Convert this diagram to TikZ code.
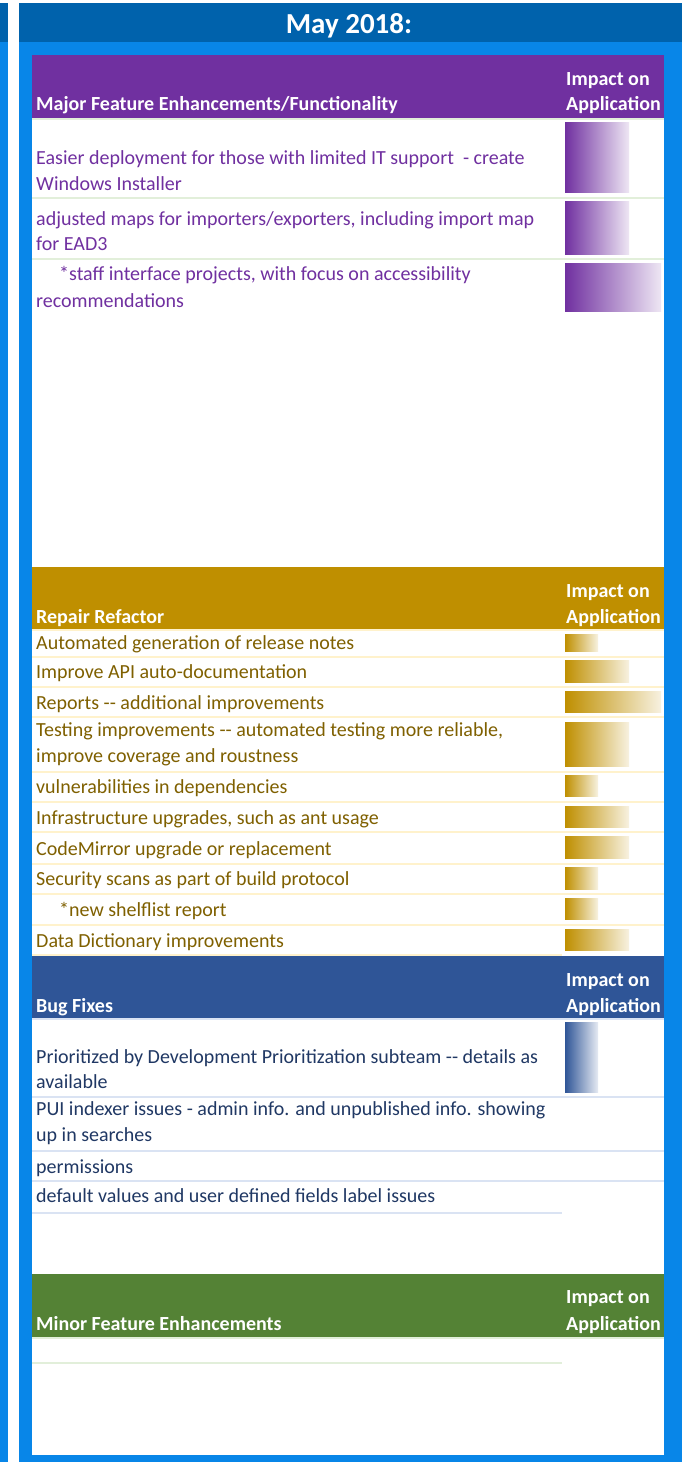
\documentclass[tikz,border=0pt]{standalone}
\usepackage{fontspec}
\setmainfont{Carlito}
\definecolor{framecolor}{RGB}{8,134,232}
\definecolor{topcolor}{RGB}{0,98,172}
\definecolor{majorcolor}{RGB}{112,48,160}
\definecolor{repaircolor}{RGB}{191,143,0}
\definecolor{bugcolor}{RGB}{47,85,151}
\definecolor{minorcolor}{RGB}{84,130,53}
\definecolor{repairtext}{RGB}{127,96,0}
\definecolor{bugtext}{RGB}{32,56,100}
\definecolor{greenline}{RGB}{226,239,218}
\definecolor{goldline}{RGB}{255,242,204}
\definecolor{blueline}{RGB}{218,227,243}
\tikzset{
  rowtext/.style={anchor=base west, inner sep=0pt, font=\fontsize{20}{24}\selectfont},
  headtext/.style={anchor=base west, inner sep=0pt, text=white, font=\bfseries\fontsize{20}{24}\selectfont},
  majtext/.style={rowtext, text=majorcolor},
  reptext/.style={rowtext, text=repairtext},
  bugrow/.style={rowtext, text=bugtext},
  sepline/.style={line width=2pt},
  majbar/.style={left color=majorcolor, right color=majorcolor!12},
  repbar/.style={left color=repaircolor, right color=repaircolor!12},
  bugbar/.style={left color=bugcolor, right color=bugcolor!12},
}

\begin{document}
\begin{tikzpicture}[x=1pt, y=-1pt]
\useasboundingbox (0,0) rectangle (682,1462);
% frame
\fill[white] (0,0) rectangle (682,1462);
\fill[topcolor] (0,3) rectangle (8,42);
\fill[framecolor] (0,42) rectangle (8,1462);
\fill[topcolor] (19,3) rectangle (682,42);
\fill[framecolor] (19,42) rectangle (682,1462);
\fill[white] (32,55) rectangle (664,1455);
\node[inner sep=0pt, anchor=base, text=white, font=\bfseries\fontsize{29}{34}\selectfont] (month) at (349,33) {May 2018:};

% Major Feature Enhancements
\fill[majorcolor] (32,55) rectangle (664,118);
\node[headtext] (majhead) at (36,110) {Major Feature Enhancements/Functionality};
\node[headtext] (majimpa) at (566,85) {Impact on};
\node[headtext] (majimpb) at (566,110) {Application};
\draw[sepline, greenline] (32,119) -- (664,119);
\draw[sepline, greenline] (32,198) -- (664,198);
\draw[sepline, greenline] (32,259) -- (664,259);
\node[majtext] (maj1a) at (36,164) {Easier deployment for those with limited IT support~ - create};
\node[majtext] (maj1b) at (36,190) {Windows Installer};
\node[majtext] (maj2a) at (36,225) {adjusted maps for importers/exporters, including import map};
\node[majtext] (maj2b) at (36,250) {for EAD3};
\node[majtext] (maj3a) at (59,280) {*staff interface projects, with focus on accessibility};
\node[majtext] (maj3b) at (36,307) {recommendations};
\shade[majbar] (565,122) rectangle (629,192);
\shade[majbar] (565,201) rectangle (629,254);
\shade[majbar] (565,263) rectangle (661,311);

% Repair Refactor
\fill[repaircolor] (32,567) rectangle (664,629);
\node[headtext] (rephead) at (36,623) {Repair Refactor};
\node[headtext] (repimpa) at (566,597) {Impact on};
\node[headtext] (repimpb) at (566,623) {Application};
\draw[sepline, goldline] (32,630) -- (664,630);
\draw[sepline, goldline] (32,657) -- (664,657);
\draw[sepline, goldline] (32,687) -- (664,687);
\draw[sepline, goldline] (32,717) -- (664,717);
\draw[sepline, goldline] (32,772) -- (664,772);
\draw[sepline, goldline] (32,802) -- (664,802);
\draw[sepline, goldline] (32,832) -- (664,832);
\draw[sepline, goldline] (32,864) -- (664,864);
\draw[sepline, goldline] (32,894) -- (664,894);
\draw[sepline, goldline] (32,925) -- (664,925);
\draw[sepline, goldline] (32,955) -- (562,955);
\node[reptext] (rep1) at (36,649) {Automated generation of release notes};
\node[reptext] (rep2) at (36,678) {Improve API auto-documentation};
\node[reptext] (rep3) at (36,709) {Reports -{}- additional improvements};
\node[reptext] (rep4a) at (36,736) {Testing improvements -{}- automated testing more reliable,};
\node[reptext] (rep4b) at (36,762) {improve coverage and roustness};
\node[reptext] (rep5) at (36,793) {vulnerabilities in dependencies};
\node[reptext] (rep6) at (36,824) {Infrastructure upgrades, such as ant usage};
\node[reptext] (rep7) at (36,855) {CodeMirror upgrade or replacement};
\node[reptext] (rep8) at (36,885) {Security scans as part of build protocol};
\node[reptext] (rep9) at (59,916) {*new shelflist report};
\node[reptext] (rep10) at (36,947) {Data Dictionary improvements};
\shade[repbar] (565,634) rectangle (598,651);
\shade[repbar] (565,660) rectangle (629,682);
\shade[repbar] (565,691) rectangle (661,712);
\shade[repbar] (565,722) rectangle (629,766);
\shade[repbar] (565,775) rectangle (598,796);
\shade[repbar] (565,806) rectangle (629,827);
\shade[repbar] (565,836) rectangle (629,858);
\shade[repbar] (565,867) rectangle (598,889);
\shade[repbar] (565,898) rectangle (598,919);
\shade[repbar] (565,929) rectangle (629,950);

% Bug Fixes
\fill[bugcolor] (32,956) rectangle (664,1018);
\node[headtext] (bughead) at (36,1012) {Bug Fixes};
\node[headtext] (bugimpa) at (566,986) {Impact on};
\node[headtext] (bugimpb) at (566,1012) {Application};
\draw[sepline, blueline] (32,1019) -- (664,1019);
\draw[sepline, blueline] (32,1097) -- (664,1097);
\draw[sepline, blueline] (32,1151) -- (664,1151);
\draw[sepline, blueline] (32,1181) -- (664,1181);
\draw[sepline, blueline] (32,1213) -- (562,1213);
\node[bugrow] (bug1a) at (36,1063) {Prioritized by Development Prioritization subteam -{}- details as};
\node[bugrow] (bug1b) at (36,1088) {available};
\node[bugrow] (bug2a) at (36,1115) {PUI indexer issues - admin info. and unpublished info. showing};
\node[bugrow] (bug2b) at (36,1141) {up in searches};
\node[bugrow] (bug3) at (36,1173) {permissions};
\node[bugrow] (bug4) at (36,1202) {default values and user defined fields label issues};
\shade[bugbar] (565,1022) rectangle (598,1092);

% Minor Feature Enhancements
\fill[minorcolor] (32,1274) rectangle (664,1337);
\node[headtext] (minhead) at (36,1330) {Minor Feature Enhancements};
\node[headtext] (minimpa) at (566,1303) {Impact on};
\node[headtext] (minimpb) at (566,1330) {Application};
\draw[sepline, greenline] (32,1338) -- (664,1338);
\draw[sepline, greenline] (32,1363) -- (562,1363);
\end{tikzpicture}
\end{document}
